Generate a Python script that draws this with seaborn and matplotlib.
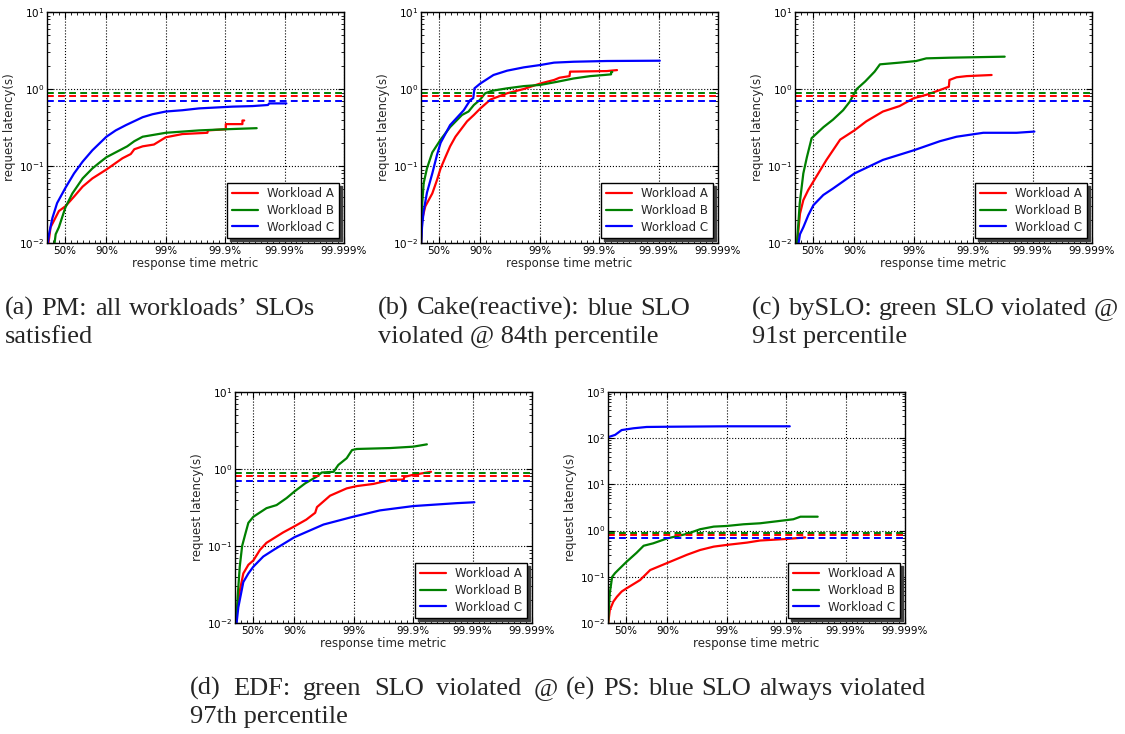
import numpy as np
import pandas as pd
import matplotlib
matplotlib.use("Agg")
import matplotlib.pyplot as plt
from matplotlib.ticker import FixedLocator, LogLocator, MultipleLocator, NullFormatter
import seaborn as sns

# ---------------- data (x in "nines": -log10(1 - percentile)) ----------------
workloads = ["Workload A", "Workload B", "Workload C"]
slo_values = [0.8, 0.9, 0.7]          # A red, B green, C blue
tick_nines = [0.30103, 1, 2, 3, 4, 5]
tick_labels = ["50%", "90%", "99%", "99.9%", "99.99%", "99.999%"]

# (a) PM
a_A_x = [0.017, 0.06, 0.2, 0.31, 0.455, 0.6, 0.764, 1.0, 1.27, 1.41, 1.47, 1.61, 1.8, 2.0, 2.28, 2.7, 2.71, 3.01, 3.01, 3.29, 3.29, 3.32]
a_A_y = [0.009, 0.016, 0.026, 0.03, 0.040, 0.054, 0.069, 0.09, 0.126, 0.143, 0.165, 0.18, 0.19, 0.236, 0.26, 0.27, 0.29, 0.30, 0.35, 0.35, 0.39, 0.39]
a_B_x = [0.12, 0.146, 0.2, 0.31, 0.427, 0.6, 0.764, 0.88, 1.0, 1.35, 1.47, 1.61, 2.0, 2.56, 3.01, 3.53]
a_B_y = [0.009, 0.013, 0.016, 0.029, 0.044, 0.069, 0.093, 0.11, 0.13, 0.18, 0.21, 0.24, 0.27, 0.29, 0.30, 0.31]
a_C_x = [0.005, 0.034, 0.09, 0.17, 0.31, 0.455, 0.6, 0.764, 1.0, 1.157, 1.33, 1.61, 1.775, 2.0, 2.28, 2.56, 3.12, 3.46, 3.72, 3.74, 4.03]
a_C_y = [0.009, 0.013, 0.021, 0.033, 0.052, 0.080, 0.114, 0.16, 0.24, 0.29, 0.34, 0.43, 0.47, 0.51, 0.53, 0.56, 0.59, 0.60, 0.62, 0.65, 0.65]

# (b) Cake(reactive)
b_A_x = [0.0, 0.017, 0.073, 0.19, 0.27, 0.33, 0.41, 0.49, 0.58, 0.66, 0.775, 0.89, 1.0, 1.17, 1.45, 1.73, 2.01, 2.24, 2.33, 2.5, 2.51, 3.13, 3.3]
b_A_y = [0.009, 0.02, 0.03, 0.044, 0.066, 0.093, 0.13, 0.18, 0.24, 0.29, 0.38, 0.46, 0.56, 0.73, 0.88, 1.0, 1.18, 1.31, 1.4, 1.47, 1.68, 1.71, 1.76]
b_B_x = [0.0, 0.017, 0.045, 0.1, 0.19, 0.33, 0.49, 0.69, 0.8, 0.89, 0.99, 1.08, 1.2, 1.45, 1.73, 2.01, 2.29, 2.57, 2.85, 3.08, 3.2, 3.2, 3.22]
b_B_y = [0.009, 0.03, 0.06, 0.093, 0.15, 0.22, 0.32, 0.46, 0.51, 0.62, 0.72, 0.88, 0.95, 1.02, 1.09, 1.13, 1.24, 1.37, 1.47, 1.52, 1.55, 1.66, 1.66]
b_C_x = [0.0, 0.017, 0.045, 0.1, 0.19, 0.27, 0.33, 0.49, 0.72, 0.83, 0.88, 0.9, 1.0, 1.22, 1.45, 1.73, 2.01, 2.24, 2.57, 3.13, 4.02]
b_C_y = [0.009, 0.016, 0.026, 0.045, 0.08, 0.14, 0.2, 0.34, 0.53, 0.72, 0.76, 1.02, 1.18, 1.52, 1.73, 1.91, 2.05, 2.2, 2.26, 2.31, 2.33]

# (c) bySLO
c_A_x = [0.03, 0.084, 0.14, 0.224, 0.31, 0.53, 0.76, 1.0, 1.2, 1.48, 1.76, 2.0, 2.21, 2.44, 2.59, 2.6, 2.72, 2.89, 3.31]
c_A_y = [0.009, 0.024, 0.036, 0.049, 0.063, 0.12, 0.22, 0.29, 0.38, 0.51, 0.6, 0.76, 0.84, 0.97, 1.07, 1.31, 1.42, 1.47, 1.52]
c_B_x = [0.03, 0.08, 0.14, 0.2, 0.28, 0.48, 0.64, 0.81, 0.92, 1.04, 1.18, 1.34, 1.43, 1.76, 2.04, 2.21, 2.6, 3.53]
c_B_y = [0.009, 0.033, 0.08, 0.13, 0.23, 0.32, 0.4, 0.53, 0.68, 1.0, 1.25, 1.68, 2.09, 2.2, 2.31, 2.5, 2.55, 2.63]
c_C_x = [0.05, 0.084, 0.14, 0.224, 0.31, 0.476, 0.64, 1.0, 1.48, 2.0, 2.44, 2.72, 3.17, 3.73, 4.03]
c_C_y = [0.009, 0.013, 0.016, 0.023, 0.031, 0.042, 0.051, 0.08, 0.12, 0.16, 0.21, 0.24, 0.27, 0.27, 0.28]

# (d) EDF
d_A_x = [0.0, 0.03, 0.084, 0.14, 0.225, 0.31, 0.42, 0.53, 0.81, 1.0, 1.2, 1.35, 1.38, 1.6, 1.88, 2.05, 2.33, 2.61, 2.84, 2.85, 3.0, 3.3]
d_A_y = [0.009, 0.015, 0.027, 0.044, 0.057, 0.065, 0.089, 0.11, 0.15, 0.18, 0.22, 0.27, 0.32, 0.45, 0.56, 0.6, 0.64, 0.72, 0.73, 0.79, 0.84, 0.92]
d_B_x = [0.02, 0.045, 0.08, 0.12, 0.17, 0.225, 0.31, 0.53, 0.7, 0.87, 1.0, 1.18, 1.38, 1.46, 1.66, 1.74, 1.88, 1.97, 2.05, 2.61, 3.0, 3.23]
d_B_y = [0.009, 0.022, 0.054, 0.1, 0.14, 0.2, 0.24, 0.31, 0.34, 0.42, 0.51, 0.65, 0.8, 0.9, 0.92, 1.13, 1.38, 1.76, 1.82, 1.87, 1.95, 2.09]
d_C_x = [0.02, 0.056, 0.14, 0.225, 0.31, 0.476, 0.65, 1.0, 1.49, 1.99, 2.44, 3.0, 3.73, 4.03]
d_C_y = [0.009, 0.016, 0.034, 0.044, 0.054, 0.073, 0.089, 0.13, 0.19, 0.24, 0.29, 0.33, 0.36, 0.37]

# (e) PS
e_A_x = [0.0, 0.03, 0.09, 0.15, 0.23, 0.31, 0.54, 0.71, 1.0, 1.33, 1.55, 1.78, 2.0, 2.34, 2.56, 3.01, 3.32]
e_A_y = [0.009, 0.019, 0.029, 0.037, 0.048, 0.056, 0.085, 0.14, 0.2, 0.3, 0.38, 0.45, 0.49, 0.55, 0.61, 0.66, 0.71]
e_B_x = [0.0, 0.017, 0.03, 0.062, 0.07, 0.118, 0.17, 0.31, 0.48, 0.6, 0.76, 1.0, 1.33, 1.55, 1.78, 2.0, 2.28, 2.56, 2.84, 3.12, 3.24, 3.53]
e_B_y = [0.009, 0.023, 0.044, 0.085, 0.1, 0.12, 0.14, 0.21, 0.33, 0.47, 0.53, 0.68, 0.85, 1.07, 1.22, 1.26, 1.37, 1.44, 1.59, 1.76, 2.0, 2.0]
e_C_x = [0.0, 0.12, 0.23, 0.43, 0.65, 1.0, 2.0, 3.06]
e_C_y = [105, 118, 150, 164, 175, 177, 181, 181]

captions = {
    "a": ["(a) PM: all workloads\u2019 SLOs", "satisfied"],
    "b": ["(b) Cake(reactive): blue SLO", "violated @ 84th percentile"],
    "c": ["(c) bySLO: green SLO violated @", "91st percentile"],
    "d": ["(d) EDF: green SLO violated @", "97th percentile"],
    "e": ["(e) PS: blue SLO always violated"],
}

panels = {
    "a": [(a_A_x, a_A_y), (a_B_x, a_B_y), (a_C_x, a_C_y)],
    "b": [(b_A_x, b_A_y), (b_B_x, b_B_y), (b_C_x, b_C_y)],
    "c": [(c_A_x, c_A_y), (c_B_x, c_B_y), (c_C_x, c_C_y)],
    "d": [(d_A_x, d_A_y), (d_B_x, d_B_y), (d_C_x, d_C_y)],
    "e": [(e_A_x, e_A_y), (e_B_x, e_B_y), (e_C_x, e_C_y)],
}
ylims = {"a": (1e-2, 1e1), "b": (1e-2, 1e1), "c": (1e-2, 1e1), "d": (1e-2, 1e1), "e": (1e-2, 1e3)}

# ---------------- style ----------------
sns.set_style("ticks")
plt.rcParams.update({
    "font.family": ["DejaVu Sans"],
    "axes.edgecolor": "black",
    "axes.linewidth": 1.0,
    "xtick.direction": "in",
    "ytick.direction": "in",
    "xtick.top": True,
    "ytick.right": True,
    "xtick.labelsize": 7.5,
    "ytick.labelsize": 7.5,
    "xtick.major.size": 4,
    "ytick.major.size": 4,
    "xtick.minor.size": 2,
    "ytick.minor.size": 2,
    "xtick.color": "black",
    "ytick.color": "black",
    "grid.color": "black",
    "grid.linestyle": ":",
    "grid.linewidth": 0.8,
})

palette = {"Workload A": "#ff0000", "Workload B": "#008000", "Workload C": "#0000ff"}

W, H = 1125, 734
fig = plt.figure(figsize=(W / 100, H / 100), dpi=100)

ax_px = {"a": (47, 12), "b": (421, 12), "c": (795, 12), "d": (235, 392), "e": (608, 392)}
aw, ah = 297, 231

for key, series in panels.items():
    lx, ty = ax_px[key]
    ax = fig.add_axes([lx / W, 1 - (ty + ah) / H, aw / W, ah / H])
    frames = []
    for name, (xs, ys) in zip(workloads, series):
        frames.append(pd.DataFrame({"nines": xs, "latency": ys, "workload": name}))
    df = pd.concat(frames, ignore_index=True)
    sns.lineplot(data=df, x="nines", y="latency", hue="workload", hue_order=workloads,
                 palette=palette, estimator=None, sort=False, units="workload",
                 linewidth=1.6, legend=False, ax=ax)
    handles = list(ax.lines[:3])
    for name, slo in zip(workloads, slo_values):
        ax.axhline(slo, color=palette[name], linestyle=(0, (3.5, 2.2)), linewidth=1.4)
    ax.set_yscale("log")
    ax.set_ylim(*ylims[key])
    ax.set_xlim(0, 5)
    ax.xaxis.set_major_locator(FixedLocator(tick_nines))
    ax.set_xticklabels(tick_labels)
    ax.xaxis.set_minor_locator(MultipleLocator(0.1))
    ax.yaxis.set_minor_locator(LogLocator(base=10, subs=np.arange(2, 10)))
    ax.yaxis.set_minor_formatter(NullFormatter())
    ax.grid(True, which="major")
    ax.tick_params(axis="both", which="major", pad=2)
    ax.set_xlabel("response time metric", fontsize=8.5, labelpad=1)
    ax.set_ylabel("request latency(s)", fontsize=8.5, labelpad=2)
    leg = ax.legend(handles, workloads, loc="lower right", fontsize=8.5,
                    shadow={"color": "0.25", "alpha": 1.0},
                    fancybox=False, framealpha=1, edgecolor="black",
                    handlelength=2.2, borderaxespad=0.4, labelspacing=0.3)
    leg.get_frame().set_linewidth(1.0)
    for sp in ax.spines.values():
        sp.set_visible(True)

# captions (first lines justified to the column width, as in the paper)
cap_font = dict(fontsize=19, family=["Liberation Serif", "DejaVu Serif"])
cap_pos = {"a": (5, 315, 315), "b": (378, 315, 690), "c": (752, 315, 1118),
           "d": (190, 695, 558), "e": (566, 695, 925)}
renderer = fig.canvas.get_renderer()
for key, lines in captions.items():
    x0, y0, x1 = cap_pos[key]
    for i, line in enumerate(lines):
        yf = 1 - (y0 + 28 * i) / H
        if i == 0:
            words = line.split(" ")
            objs = [fig.text(0, yf, w, ha="left", va="baseline", **cap_font) for w in words]
            widths = [o.get_window_extent(renderer).width for o in objs]
            gap = (x1 - x0 - sum(widths)) / max(len(words) - 1, 1)
            xp = x0
            for o, wdt in zip(objs, widths):
                o.set_x(xp / W)
                xp += wdt + gap
        else:
            fig.text(x0 / W, yf, line, ha="left", va="baseline", **cap_font)

fig.savefig("out.png", dpi=100)
